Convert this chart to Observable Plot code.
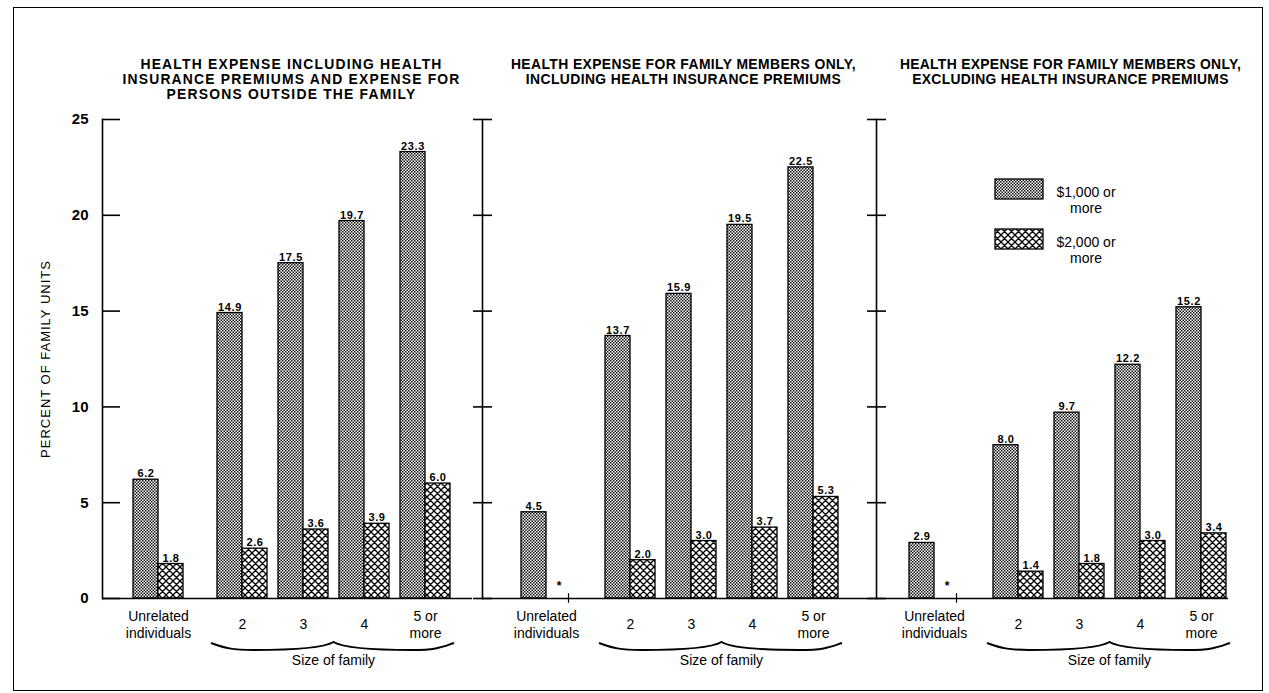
<!DOCTYPE html>
<html><head><meta charset="utf-8">
<script src="https://cdn.jsdelivr.net/npm/d3@7"></script>
<script src="https://cdn.jsdelivr.net/npm/@observablehq/plot@0.6"></script>
<style>
body{margin:0;background:#fff;}
#wrap{position:relative;width:1269px;height:693px;overflow:hidden;font-family:"Liberation Sans",Arial,sans-serif;color:#000;}
#wrap svg.plotsvg{position:absolute;top:0;overflow:visible;background:transparent;}
#border{position:absolute;left:13px;top:7px;width:1250px;height:684px;border:1.5px solid #000;box-sizing:border-box;}
.leg{position:absolute;}
.legtxt{position:absolute;font-size:14px;line-height:16px;text-align:center;width:66px;}
svg.plotsvg g[font-size="11"] text{letter-spacing:0.6px;}
svg.plotsvg g[font-size="13"] text{letter-spacing:1px;}
</style></head><body>
<svg width="0" height="0" style="position:absolute"><defs>
<pattern id="stip" width="3" height="3" patternUnits="userSpaceOnUse"><rect width="3" height="3" fill="#fff"/><rect x="0" y="0" width="1.5" height="1.5" fill="#111"/><rect x="1.5" y="1.5" width="1.5" height="1.5" fill="#111"/></pattern>
<pattern id="hatch" width="7" height="7" patternUnits="userSpaceOnUse"><rect width="7" height="7" fill="#fff"/><path d="M0,0L7,7M7,0L0,7M-1,6L1,8M6,-1L8,1M-1,1L1,-1M6,8L8,6" stroke="#000" stroke-width="1.3"/></pattern>
</defs></svg>
<div id="wrap"><div id="border"></div></div>
<script>
// ---- data ----
const panelTitles = [
  "HEALTH EXPENSE INCLUDING HEALTH\nINSURANCE PREMIUMS AND EXPENSE FOR\nPERSONS OUTSIDE THE FAMILY",
  "HEALTH EXPENSE FOR FAMILY MEMBERS ONLY,\nINCLUDING HEALTH INSURANCE PREMIUMS",
  "HEALTH EXPENSE FOR FAMILY MEMBERS ONLY,\nEXCLUDING HEALTH INSURANCE PREMIUMS"
];
const categories = ["Unrelated\nindividuals", "2", "3", "4", "5 or\nmore"];
const seriesNames = ["$1,000 or\nmore", "$2,000 or\nmore"];
const panel1Over1000 = [6.2, 14.9, 17.5, 19.7, 23.3];
const panel1Over2000 = [1.8, 2.6, 3.6, 3.9, 6.0];
const panel2Over1000 = [4.5, 13.7, 15.9, 19.5, 22.5];
const panel2Over2000 = [null, 2.0, 3.0, 3.7, 5.3];
const panel3Over1000 = [2.9, 8.0, 9.7, 12.2, 15.2];
const panel3Over2000 = [null, 1.4, 1.8, 3.0, 3.4];
const yTicks = [0, 5, 10, 15, 20, 25];
const yLabel = "PERCENT OF FAMILY UNITS";
const groupLabel = "Size of family";
const footnoteMark = "*";

const panelValues = [
  [panel1Over1000, panel1Over2000],
  [panel2Over1000, panel2Over2000],
  [panel3Over1000, panel3Over2000]
];

// ---- layout (styles only) ----
const H = 693, MT = 119, MB = 95;
const layout = [
  {left: 0,   mL: 102, fw: 370, mR: 0,  insetL: 54, insetR: 22, titleDx: 4,  titleLs: 1.2},
  {left: 472, mL: 10,  fw: 394, mR: 0,  insetL: 62, insetR: 38, titleDx: 4,  titleLs: 0.4},
  {left: 866, mL: 10,  fw: 352, mR: 41, insetL: 56, insetR: 2,  titleDx: 18, titleLs: 0.3}
];
const UDX = -23;       // extra gap before the family-size groups
const HALF = 25;       // half of a category band (one bar)
const fillA = "url(#stip)", fillB = "url(#hatch)";
const FONT = "Liberation Sans, Arial, sans-serif";
const TITLE_SIZE = 13.9;

const wrap = document.getElementById("wrap");

panelValues.forEach(([v1s, v2s], p) => {
  const L = layout[p];
  const rows = categories.map((c, i) => ({cat: c, v1: v1s[i], v2: v2s[i], unrel: i === 0}));
  const fam = rows.filter(d => !d.unrel);
  const un = rows.filter(d => d.unrel);
  const un2 = un.filter(d => d.v2 != null);
  const unMissing = un.filter(d => d.v2 == null);
  const barStyle = {stroke: "#000", strokeWidth: 1.3};
  const lbl = {fontSize: 11, fontWeight: "bold", fontFamily: FONT, dy: -6};
  const catLbl = {fontSize: 14, lineHeight: 1.2, fontFamily: FONT, frameAnchor: "bottom", lineAnchor: "middle", dy: 25.5};

  const brace = (index, scales) => {
    const x = scales.x, y = scales.y, bw = x.bandwidth();
    const x0 = x(categories[1]) - 6, x1 = x(categories[4]) + bw + 4;
    const xm = (x(categories[2]) + x(categories[3])) / 2 + bw / 2;
    const xl = x0 + 0.35 * (xm - x0), xr = x1 - 0.35 * (x1 - xm);
    const yb = y(0) + 45;
    const g = d3.create("svg:g");
    g.append("path")
      .attr("d", `M${x0},${yb} C${x0 + 12},${yb + 4} ${xl - 25},${yb + 7} ${xl},${yb + 7}
                  C${xl + 35},${yb + 7} ${xm - 10},${yb + 5} ${xm},${yb - 1}
                  C${xm + 10},${yb + 5} ${xr - 35},${yb + 7} ${xr},${yb + 7}
                  C${xr + 25},${yb + 7} ${x1 - 12},${yb + 4} ${x1},${yb}`)
      .attr("fill", "none").attr("stroke", "#000").attr("stroke-width", 2);
    g.append("text").attr("x", xm).attr("y", y(0) + 63)
      .attr("text-anchor", "middle").attr("dominant-baseline", "middle")
      .attr("font-size", 14).attr("font-family", FONT).text(groupLabel);
    return g.node();
  };

  const marks = [
    Plot.barY(fam, {x: "cat", y: "v1", fill: fillA, insetRight: HALF, ...barStyle}),
    Plot.barY(fam, {x: "cat", y: "v2", fill: fillB, insetLeft: HALF, ...barStyle}),
    Plot.barY(un, {x: "cat", y: "v1", fill: fillA, insetRight: HALF, dx: UDX, ...barStyle}),
    Plot.barY(un2, {x: "cat", y: "v2", fill: fillB, insetLeft: HALF, dx: UDX, ...barStyle}),
    Plot.text(fam, {x: "cat", y: "v1", text: d => d.v1.toFixed(1), dx: -HALF / 2, ...lbl}),
    Plot.text(fam, {x: "cat", y: "v2", text: d => d.v2.toFixed(1), dx: HALF / 2, ...lbl}),
    Plot.text(un, {x: "cat", y: "v1", text: d => d.v1.toFixed(1), dx: UDX - HALF / 2, ...lbl}),
    Plot.text(un2, {x: "cat", y: "v2", text: d => d.v2.toFixed(1), dx: UDX + HALF / 2, ...lbl}),
    Plot.text(unMissing, {x: "cat", frameAnchor: "bottom", text: () => footnoteMark, dx: UDX + HALF / 2, dy: -9, fontSize: 12, fontWeight: "bold", fontFamily: FONT}),
    Plot.ruleX(unMissing, {x: "cat", y1: -0.25, y2: 0.25, dx: UDX + HALF - 3, strokeWidth: 1.2}),
    Plot.ruleY([0], {strokeWidth: 1.6}),
    Plot.frame({anchor: "left", strokeWidth: 1.6}),
    Plot.text(fam, {x: "cat", text: "cat", ...catLbl}),
    Plot.text(un, {x: "cat", text: "cat", dx: UDX, ...catLbl}),
    Plot.text([panelTitles[p]], {text: d => d, frameAnchor: "top", lineAnchor: "top", dy: -61, dx: L.titleDx, fontSize: TITLE_SIZE, fontWeight: "bold", lineHeight: 1.07, fontFamily: FONT}),
    brace
  ];
  if (p === 0) {
    marks.push(Plot.axisY(yTicks, {tickSize: 18, tickPadding: 14, dx: 18, strokeWidth: 1.6, fontSize: 15, fontWeight: "bold", fontFamily: FONT, label: null}));
    marks.push(Plot.text([yLabel], {text: d => d, frameAnchor: "left", textAnchor: "middle", rotate: -90, dx: -57, fontSize: 13, fontFamily: FONT}));
  } else {
    marks.push(Plot.axisY(yTicks, {tickSize: 19, dx: 10, strokeWidth: 1.6, tickFormat: () => "", label: null}));
  }

  const chart = Plot.plot({
    width: L.mL + L.fw + L.mR,
    height: H,
    marginTop: MT, marginBottom: MB, marginLeft: L.mL, marginRight: L.mR,
    style: {background: "transparent", overflow: "visible", fontFamily: FONT},
    x: {type: "band", domain: categories, paddingInner: 0.18, paddingOuter: 0, insetLeft: L.insetL, insetRight: L.insetR, round: false, axis: null},
    y: {domain: [0, 25], axis: null},
    marks
  });
  chart.classList.add("plotsvg");
  chart.style.left = L.left + "px";
  d3.select(chart).selectAll(`g[font-size="${TITLE_SIZE}"] text`).style("letter-spacing", L.titleLs + "px");
  wrap.appendChild(chart);
});

// ---- legend ----
const legendPos = [{top: 178, fill: fillA}, {top: 228, fill: fillB}];
seriesNames.forEach((name, i) => {
  const s = legendPos[i];
  const sw = document.createElementNS("http://www.w3.org/2000/svg", "svg");
  sw.setAttribute("width", 50); sw.setAttribute("height", 22);
  sw.setAttribute("class", "leg");
  sw.style.left = "994px"; sw.style.top = s.top + "px";
  sw.innerHTML = `<rect x="1" y="1" width="48" height="20" fill="${s.fill}" stroke="#000" stroke-width="1.3"/>`;
  wrap.appendChild(sw);
  const t = document.createElement("div");
  t.className = "legtxt";
  t.style.left = "1053px"; t.style.top = (s.top + 6) + "px";
  t.innerHTML = name.replace("\n", "<br>");
  wrap.appendChild(t);
});
</script>
</body></html>
